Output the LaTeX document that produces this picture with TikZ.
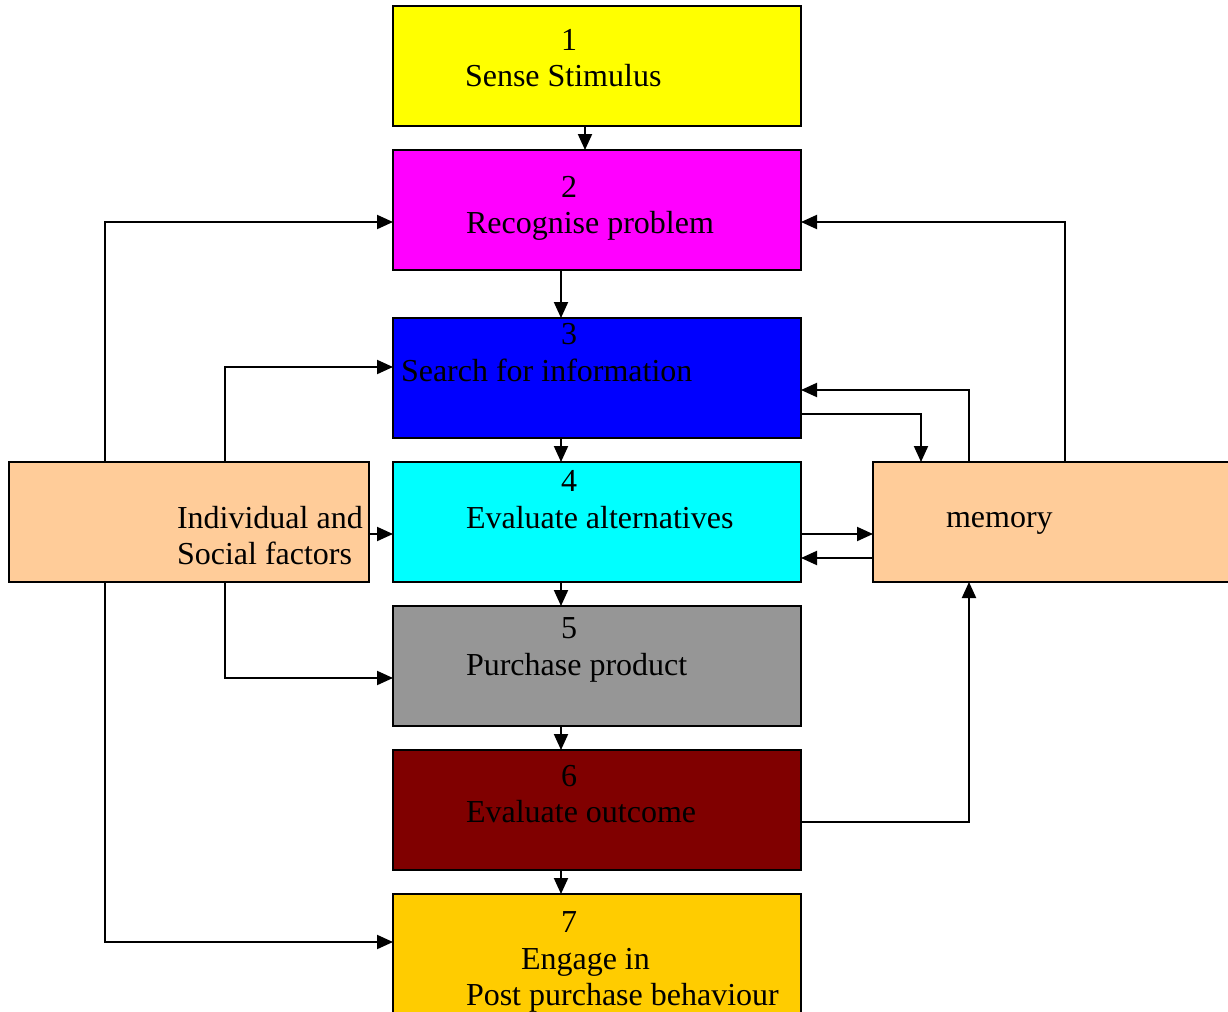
\documentclass[tikz,border=0pt]{standalone}
\usepackage{fontspec}
\setmainfont{Liberation Serif}
\usetikzlibrary{arrows.meta}
\definecolor{cyel}{HTML}{FFFF00}
\definecolor{cmag}{HTML}{FF00FF}
\definecolor{cblue}{HTML}{0000FF}
\definecolor{ccyan}{HTML}{00FFFF}
\definecolor{cgray}{HTML}{969696}
\definecolor{cmaroon}{HTML}{800000}
\definecolor{cgold}{HTML}{FFCC00}
\definecolor{cpeach}{HTML}{FFCC99}
\begin{document}
\begin{tikzpicture}[x=0.5pt,y=-0.5pt,
 box/.style={draw=black,line width=1pt,rectangle,inner sep=0pt,outer sep=0pt,minimum width=204pt,minimum height=60pt,anchor=north west},
 txt/.style={inner sep=0pt,outer sep=0pt,font=\fontsize{16}{18.5}\selectfont,anchor=base west},
 num/.style={txt,anchor=base},
 arr/.style={line width=1pt,-{Triangle[length=8pt,width=7pt]}}]
\useasboundingbox (0,0) rectangle (1228,1012);
\fill[white] (0,0) rectangle (1228,1012);
% boxes
\node[box,fill=cyel] (b1) at (393,6) {};
\node[box,fill=cmag] (b2) at (393,150) {};
\node[box,fill=cblue] (b3) at (393,318) {};
\node[box,fill=ccyan] (b4) at (393,462) {};
\node[box,fill=cgray] (b5) at (393,606) {};
\node[box,fill=cmaroon] (b6) at (393,750) {};
\node[box,fill=cgold,minimum height=66pt] (b7) at (393,894) {};
\node[box,fill=cpeach,minimum width=180pt] (L) at (9,462) {};
\node[box,fill=cpeach,minimum width=190pt] (M) at (873,462) {};
% texts
\node[num] (n1) at (569,50) {1};
\node[txt] (t1) at (465,86) {Sense Stimulus};
\node[num] (n2) at (569,197) {2};
\node[txt] (t2) at (466,233) {Recognise problem};
\node[num] (n3) at (569,344) {3};
\node[txt] (t3) at (401,381) {Search for information};
\node[num] (n4) at (569,491) {4};
\node[txt] (t4) at (466,528) {Evaluate alternatives};
\node[num] (n5) at (569,638) {5};
\node[txt] (t5) at (466,675) {Purchase product};
\node[num] (n6) at (569,786) {6};
\node[txt] (t6) at (466,822) {Evaluate outcome};
\node[num] (n7) at (569,932) {7};
\node[txt] (t7a) at (521,969) {Engage in};
\node[txt] (t7b) at (466,1005) {Post purchase behaviour};
\node[txt] (tl1) at (177,528) {Individual and};
\node[txt] (tl2) at (177,564) {Social factors};
\node[txt] (tm) at (946,527) {memory};
% vertical flow
\draw[arr] ([xshift=96pt]b1.south west) -- ([xshift=96pt]b2.north west);
\draw[arr] ([xshift=84pt]b2.south west) -- ([xshift=84pt]b3.north west);
\draw[arr] ([xshift=84pt]b3.south west) -- ([xshift=84pt]b4.north west);
\draw[arr] ([xshift=84pt]b4.south west) -- ([xshift=84pt]b5.north west);
\draw[arr] ([xshift=84pt]b5.south west) -- ([xshift=84pt]b6.north west);
\draw[arr] ([xshift=84pt]b6.south west) -- ([xshift=84pt]b7.north west);
% left factors
\draw[arr] ([xshift=48pt]L.north west) |- ([yshift=-36pt]b2.north west);
\draw[arr] ([xshift=108pt]L.north west) |- ([yshift=-24.5pt]b3.north west);
\draw[arr] ([yshift=-36pt]L.north east) -- ([yshift=-36pt]b4.north west);
\draw[arr] ([xshift=108pt]L.south west) |- ([yshift=-36pt]b5.north west);
\draw[arr] ([xshift=48pt]L.south west) |- ([yshift=-24pt]b7.north west);
% memory
\draw[arr] ([xshift=96pt]M.north west) |- ([yshift=-36pt]b2.north east);
\draw[arr] ([xshift=48pt]M.north west) |- ([yshift=-36pt]b3.north east);
\draw[arr] ([yshift=-48pt]b3.north east) -| ([xshift=24pt]M.north west);
\draw[arr] ([yshift=-36pt]b4.north east) -- ([yshift=-36pt]M.north west);
\draw[arr] ([yshift=-48pt]M.north west) -- ([yshift=-48pt]b4.north east);
\draw[arr] ([yshift=-36pt]b6.north east) -| ([xshift=48pt]M.south west);
\end{tikzpicture}
\end{document}
